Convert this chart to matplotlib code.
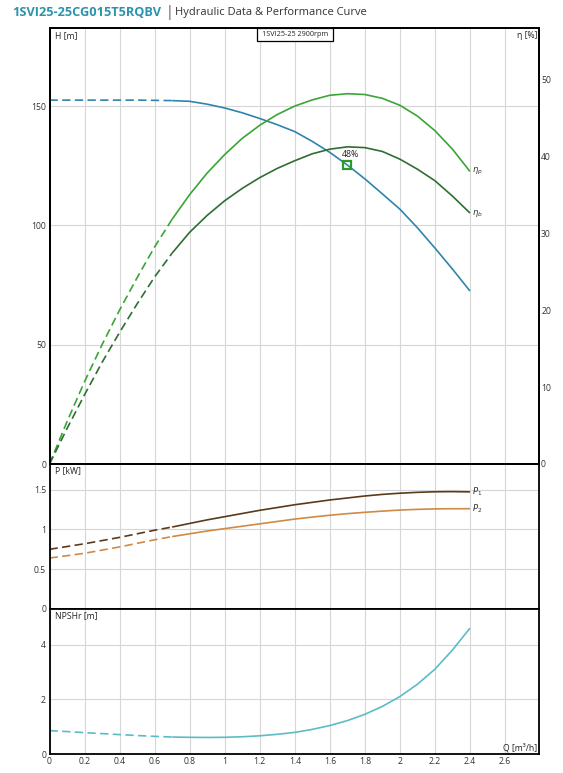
import matplotlib
matplotlib.use("Agg")
import matplotlib.pyplot as plt
import numpy as np
from matplotlib.patches import Rectangle

plt.rcParams['font.family'] = ['Open Sans', 'DejaVu Sans']

# ---------------- data ----------------
Q = [0.0, 0.1, 0.2, 0.3, 0.4, 0.5, 0.6, 0.7, 0.8, 0.9, 1.0, 1.1, 1.2,
     1.3, 1.4, 1.5, 1.6, 1.7, 1.8, 1.9, 2.0, 2.1, 2.2, 2.3, 2.4]
H = [152.5, 152.5, 152.5, 152.5, 152.5, 152.5, 152.4, 152.3, 152.0, 150.8,
     149.2, 147.2, 144.8, 142.2, 139.3, 135.2, 130.6, 125.3, 119.5, 113.2,
     106.8, 99.0, 90.5, 81.7, 72.5]
ETA_P = [0, 5.5, 10.7, 15.5, 20.0, 24.2, 28.2, 31.8, 35.0, 37.8, 40.2, 42.3,
         44.0, 45.4, 46.5, 47.3, 47.9, 48.1, 48.0, 47.5, 46.6, 45.2, 43.3,
         40.9, 38.0]
ETA_B = [0, 4.6, 9.0, 13.2, 17.1, 20.8, 24.3, 27.4, 30.1, 32.3, 34.2, 35.8,
         37.2, 38.4, 39.4, 40.3, 40.9, 41.2, 41.1, 40.6, 39.6, 38.3, 36.8,
         34.8, 32.6]
P1 = [0.75, 0.785, 0.82, 0.86, 0.90, 0.945, 0.99, 1.03, 1.075, 1.12, 1.16,
      1.20, 1.24, 1.275, 1.31, 1.34, 1.37, 1.395, 1.42, 1.44, 1.455, 1.466,
      1.473, 1.475, 1.472]
P2 = [0.64, 0.67, 0.70, 0.74, 0.78, 0.825, 0.87, 0.91, 0.945, 0.98, 1.01,
      1.04, 1.07, 1.10, 1.13, 1.155, 1.178, 1.198, 1.215, 1.23, 1.243, 1.252,
      1.258, 1.26, 1.26]
NPSH = [0.855, 0.82, 0.78, 0.745, 0.71, 0.675, 0.645, 0.62, 0.61, 0.605,
        0.61, 0.63, 0.665, 0.72, 0.79, 0.90, 1.04, 1.22, 1.45, 1.74, 2.10,
        2.55, 3.10, 3.80, 4.60]
Q_SPLIT = 0.7          # below this the curves are dashed
BEP_Q, BEP_H, BEP_ETA = 1.7, 125.3, '48%'

X_TICKS = [0, 0.2, 0.4, 0.6, 0.8, 1.0, 1.2, 1.4, 1.6, 1.8, 2.0, 2.2, 2.4, 2.6]
X_LABELS = ['0', '0.2', '0.4', '0.6', '0.8', '1', '1.2', '1.4', '1.6', '1.8',
            '2', '2.2', '2.4', '2.6']
H_TICKS = [0, 50, 100, 150]
ETA_TICKS = [0, 10, 20, 30, 40, 50]
P_TICKS = [0, 0.5, 1, 1.5]
P_LABELS = ['0', '0.5', '1', '1.5']
N_TICKS = [0, 2, 4]

TITLE_BOLD = '1SVI25-25CG015T5RQBV'
TITLE_REST = 'Hydraulic Data & Performance Curve'
BOX_TEXT = '1SVI25-25 2900rpm'

# ---------------- styles ----------------
C_H = '#2f84ad'
C_EP = '#3aa536'
C_EB = '#2f6e32'
C_P1 = '#5b3a1c'
C_P2 = '#cf8a45'
C_N = '#5cbcc6'
C_GRID = '#d6d6d6'
LW = 1.2
DASH = (5, 2.6)
XMAX = 2.794

W, Hh = 563, 773
fig = plt.figure(figsize=(W / 100, Hh / 100), dpi=100)

L = 49.5 / W
R = 539 / W
def fy(py):
    return 1 - py / Hh

ax1 = fig.add_axes([L, fy(464), R - L, fy(28.3) - fy(464)])
ax2 = fig.add_axes([L, fy(609), R - L, fy(464) - fy(609)])
ax3 = fig.add_axes([L, fy(754), R - L, fy(609) - fy(754)])

q = np.array(Q)
m_d = q <= Q_SPLIT + 1e-9
m_s = q >= Q_SPLIT - 1e-9


def draw(ax, y, color):
    y = np.array(y)
    ax.plot(q[m_d], y[m_d], color=color, lw=LW, dashes=DASH, solid_capstyle='butt')
    ax.plot(q[m_s], y[m_s], color=color, lw=LW, solid_capstyle='butt')


for ax in (ax1, ax2, ax3):
    ax.set_xlim(0, XMAX)
    ax.set_xticks(X_TICKS)
    ax.grid(True, color=C_GRID, lw=0.8)
    ax.set_axisbelow(True)
    ax.tick_params(length=0, labelsize=6.2, colors='#333333', pad=2.5)
    for s in ax.spines.values():
        s.set_linewidth(1.3)
        s.set_color('black')

ax1.tick_params(labelbottom=False)
ax2.tick_params(labelbottom=False)
ax3.set_xticklabels(X_LABELS)
ax3.tick_params(axis='x', pad=2)

# --- top panel ---
ax1.set_ylim(0, 182.6)
ax1.set_yticks(H_TICKS)
ax1r = ax1.twinx()
ax1r.set_ylim(0, 56.6)
ax1r.set_yticks(ETA_TICKS)
ax1r.tick_params(length=0, labelsize=6.2, colors='#333333', pad=1.5)
for s in ax1r.spines.values():
    s.set_linewidth(1.3)

draw(ax1, H, C_H)
draw(ax1r, ETA_P, C_EP)
draw(ax1r, ETA_B, C_EB)
ax1.plot(BEP_Q, BEP_H, marker='s', ms=6, mfc='none', mec='#2a9a2a', mew=1.6)
ax1.text(BEP_Q + 0.02, BEP_H + 4.3, BEP_ETA, fontsize=6.3, ha='center',
         va='center', color='#222222')
ax1r.text(Q[-1] + 0.01, ETA_P[-1], r'$\eta_p$', fontsize=6, ha='left',
          va='center', color='#333333')
ax1r.text(Q[-1] + 0.01, ETA_B[-1], r'$\eta_b$', fontsize=6, ha='left',
          va='center', color='#333333')

ax1.text(0.011, 0.984, 'H [m]', transform=ax1.transAxes, fontsize=6.2,
         ha='left', va='center', color='#222222')
ax1.text(0.996, 0.984, 'η [%]', transform=ax1.transAxes, fontsize=6.2,
         ha='right', va='center', color='#222222')

ax1.add_patch(Rectangle((0.424, 0.971), 0.155, 0.029, transform=ax1.transAxes,
                        fill=True, facecolor='white', edgecolor='black', lw=0.9,
                        zorder=5, clip_on=False))
ax1.text(0.5015, 0.9855, BOX_TEXT, transform=ax1.transAxes, fontsize=5.2,
         ha='center', va='center', zorder=6, color='#222222')

# --- middle panel ---
ax2.set_ylim(0, 1.822)
ax2.set_yticks(P_TICKS)
ax2.set_yticklabels(P_LABELS)
draw(ax2, P1, C_P1)
draw(ax2, P2, C_P2)
ax2.text(Q[-1] + 0.01, P1[-1], r'$P_1$', fontsize=6, ha='left', va='center',
         color='#333333')
ax2.text(Q[-1] + 0.01, P2[-1], r'$P_2$', fontsize=6, ha='left', va='center',
         color='#333333')
ax2.text(0.011, 0.952, 'P [kW]', transform=ax2.transAxes, fontsize=6.2,
         ha='left', va='center', color='#222222')

# --- bottom panel ---
ax3.set_ylim(0, 5.3)
ax3.set_yticks(N_TICKS)
draw(ax3, NPSH, C_N)
ax3.text(0.011, 0.952, 'NPSHr [m]', transform=ax3.transAxes, fontsize=6.2,
         ha='left', va='center', color='#222222')
ax3.text(0.996, 0.045, 'Q [m³/h]', transform=ax3.transAxes, fontsize=6.2,
         ha='right', va='center', color='#222222')

# --- title ---
fig.text(12 / W, fy(13), TITLE_BOLD, fontsize=9.2, fontweight='bold',
         color='#2b93ab', ha='left', va='center')
fig.text(166 / W, fy(13), '|', fontsize=10, color='#555555', ha='left',
         va='center')
fig.text(175 / W, fy(13), TITLE_REST, fontsize=8.0, color='#333333',
         ha='left', va='center')

fig.savefig('out.png', dpi=100)
